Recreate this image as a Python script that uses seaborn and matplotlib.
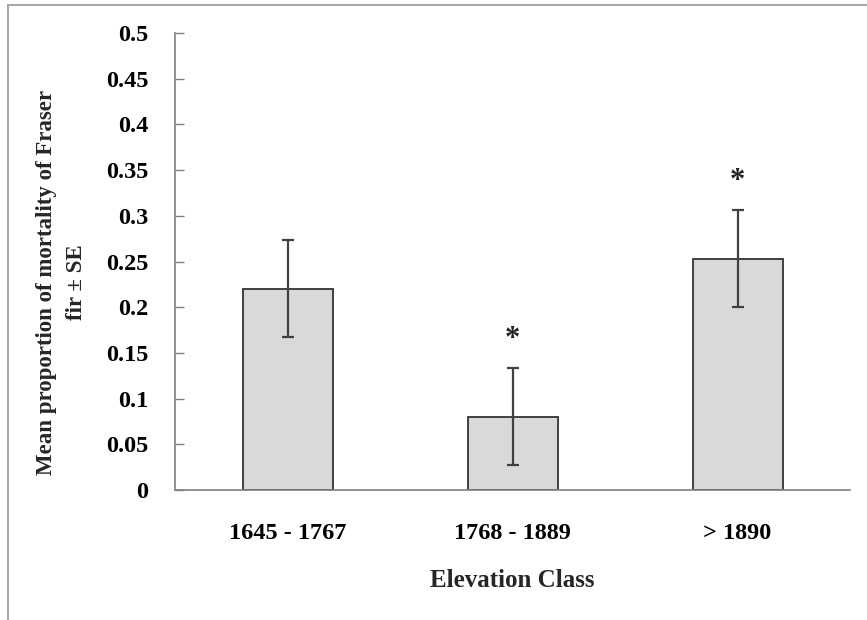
import matplotlib
matplotlib.use("Agg")
import matplotlib.pyplot as plt
from matplotlib.patches import Rectangle
import seaborn as sns
import pandas as pd
import numpy as np

categories = ["1645 - 1767", "1768 - 1889", "> 1890"]
means = [0.22, 0.08, 0.253]
se = [0.053, 0.053, 0.053]
significant = [False, True, True]
yticks = [0, 0.05, 0.1, 0.15, 0.2, 0.25, 0.3, 0.35, 0.4, 0.45, 0.5]
yticklabels = ["0", "0.05", "0.1", "0.15", "0.2", "0.25", "0.3", "0.35", "0.4", "0.45", "0.5"]

df = pd.DataFrame({"Elevation Class": categories, "Mortality": means})

sns.set_style("white")
plt.rcParams['font.family'] = ['Liberation Serif', 'DejaVu Serif']
plt.rcParams['font.weight'] = 'bold'

fig = plt.figure(figsize=(8.67, 6.20), dpi=100)
ax = fig.add_axes([175/867, 1-490/620, (850-175)/867, (490-33)/620])

sns.barplot(data=df, x="Elevation Class", y="Mortality", ax=ax,
            color="#d9d9d9", saturation=1, width=0.4,
            edgecolor="#333333", linewidth=1.3, errorbar=None)

xpos = np.arange(len(categories))
ax.errorbar(xpos, means, yerr=se, fmt="none", ecolor="#404040",
            elinewidth=1.6, capsize=4.5, capthick=1.6)

for x, m, s, sig in zip(xpos, means, se, significant):
    if sig:
        ax.text(x, m + s + 0.016, "*", ha="center", va="bottom",
                fontsize=22, fontweight="bold", color="#222222")

ax.set_xlim(-0.5, 2.5)
ax.set_ylim(0, 0.5)
ax.set_yticks(yticks)
ax.set_yticklabels(yticklabels)

for sp in ["top", "right"]:
    ax.spines[sp].set_visible(False)
for sp in ["left", "bottom"]:
    ax.spines[sp].set_color("#808080")
    ax.spines[sp].set_linewidth(1.2)

ax.tick_params(axis="y", which="both", left=True, direction="in", length=6.5,
               width=1, color="#808080", labelsize=17.5, pad=19, labelcolor="black")
ax.tick_params(axis="x", which="both", bottom=False, length=0,
               labelsize=17.5, pad=24, labelcolor="black")
for lab in ax.get_xticklabels() + ax.get_yticklabels():
    lab.set_fontweight("bold")

ax.set_xlabel("Elevation Class", fontsize=18, fontweight="bold", labelpad=18)
ax.set_ylabel("Mean proportion of mortality of Fraser\nfir \u00b1 SE", fontsize=16.5,
              fontweight="bold", linespacing=1.55)
ax.yaxis.set_label_coords(-0.130, 0.455)

border = Rectangle((8/867, -0.5), 1.5, 1.5 - 5/620, transform=fig.transFigure,
                   fill=False, edgecolor="#a8a8a8", linewidth=1.5, clip_on=False)
fig.patches.append(border)

fig.savefig("out.png", dpi=100)
